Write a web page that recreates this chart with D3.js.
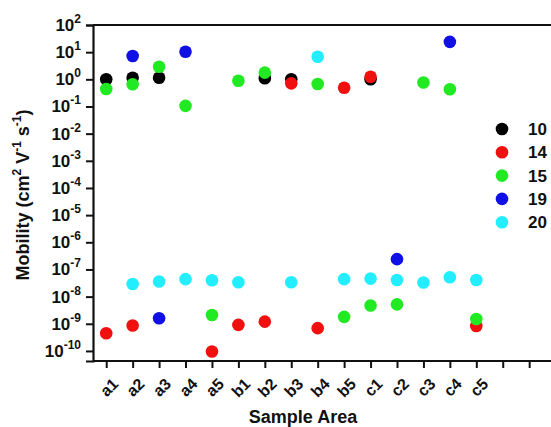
<!DOCTYPE html>
<html>
<head>
<meta charset="utf-8">
<script src="https://cdn.jsdelivr.net/npm/d3@7"></script>
<style>
  body { margin: 0; background: #fff; }
  text { font-family: "Liberation Sans", Arial, sans-serif; font-weight: bold; fill: #111; }
</style>
</head>
<body>
<div id="chart"></div>
<script>
// categories on the x axis (two extra empty slots at the end)
var categories = ["a1","a2","a3","a4","a5","b1","b2","b3","b4","b5","c1","c2","c3","c4","c5","",""];
var seriesNames = ["10", "14", "15", "19", "20"];
var seriesColors = ["#000000", "#f01010", "#22ea22", "#1010e6", "#22eeff"];
var yTickExps = [2, 1, 0, -1, -2, -3, -4, -5, -6, -7, -8, -9, -10];

// [category, mobility]
var s10 = [["a1",1.0],["a2",1.15],["a3",1.15],["b2",1.1],["b3",1.0],["c1",1.0]];
var s14 = [["a1",4.5e-10],["a2",8.6e-10],["a5",9.5e-11],["b1",9.1e-10],["b2",1.2e-9],
           ["b3",0.71],["b4",6.9e-10],["b5",0.49],["c1",1.25],["c5",8.3e-10]];
var s15 = [["a1",0.44],["a2",0.66],["a3",2.9],["a4",0.105],["a5",2.1e-9],["b1",0.89],["b2",1.76],
           ["b4",0.67],["b5",1.8e-9],["c1",4.7e-9],["c2",5.2e-9],["c3",0.76],["c4",0.43],["c5",1.5e-9]];
var s19 = [["a2",7.2],["a3",1.6e-9],["a4",10.4],["c2",2.4e-7],["c4",24]];
var s20 = [["a2",2.9e-8],["a3",3.6e-8],["a4",4.4e-8],["a5",4.0e-8],["b1",3.4e-8],["b3",3.4e-8],
           ["b4",6.8],["b5",4.4e-8],["c1",4.6e-8],["c2",4.1e-8],["c3",3.3e-8],["c4",5.2e-8],["c5",4.1e-8]];
var allSeries = [s10, s14, s15, s19, s20];

var width = 551, height = 427;
var plotLeft = 93, plotTop = 25, plotRight = 549, plotBottom = 361;

var svg = d3.select("#chart").append("svg")
    .attr("width", width)
    .attr("height", height);

var x = d3.scaleLinear().domain([0.5, 17.75]).range([plotLeft, plotRight]);
var y = d3.scaleLog().domain([Math.pow(10, -10.37), 100]).range([plotBottom, plotTop]);
function xPos(cat) { return x(categories.indexOf(cat) + 1); }

// frame top line
svg.append("line")
    .attr("x1", plotLeft).attr("x2", width)
    .attr("y1", plotTop).attr("y2", plotTop)
    .attr("stroke", "#111").attr("stroke-width", 2);

// y axis
var yAxis = svg.append("g")
    .attr("transform", "translate(" + plotLeft + ",0)")
    .call(d3.axisLeft(y).tickValues(yTickExps.map(function(e){ return Math.pow(10, e); }))
        .tickSize(7).tickFormat(""));
yAxis.select(".domain").attr("stroke", "#111").attr("stroke-width", 2.2);
yAxis.selectAll(".tick line").attr("stroke", "#111").attr("stroke-width", 2);

var yLab = svg.append("g").selectAll("text")
    .data(yTickExps)
    .enter().append("text")
    .attr("x", 81)
    .attr("y", function(d){ return y(Math.pow(10, d)) + 6; })
    .attr("text-anchor", "end")
    .style("font-size", "17px");
yLab.append("tspan").text("10");
yLab.append("tspan").attr("dy", -8).style("font-size", "12px").text(function(d){ return d; });

// x axis
var xAxis = svg.append("g")
    .attr("transform", "translate(0," + plotBottom + ")")
    .call(d3.axisBottom(x).tickValues(d3.range(1, categories.length + 1))
        .tickSize(7).tickFormat(""));
xAxis.select(".domain").attr("stroke", "#111").attr("stroke-width", 2.2)
    .attr("d", "M" + plotLeft + ",0H" + width);
xAxis.selectAll(".tick line").attr("stroke", "#111").attr("stroke-width", 2);

svg.append("g").selectAll("text")
    .data(categories.filter(function(c){ return c !== ""; }))
    .enter().append("text")
    .attr("transform", function(d){ return "translate(" + (xPos(d) + 13) + "," + (plotBottom + 24) + ") rotate(-45)"; })
    .attr("text-anchor", "end")
    .style("font-size", "16px")
    .text(function(d){ return d; });

// axis titles
svg.append("text")
    .attr("x", 303).attr("y", 423)
    .attr("text-anchor", "middle")
    .style("font-size", "18px")
    .text("Sample Area");

var yt = svg.append("text")
    .attr("transform", "translate(29,195) rotate(-90)")
    .attr("text-anchor", "middle")
    .style("font-size", "18px");
yt.append("tspan").text("Mobility (cm");
yt.append("tspan").attr("dy", -8).style("font-size", "12px").text("2");
yt.append("tspan").attr("dy", 8).text(" V");
yt.append("tspan").attr("dy", -8).style("font-size", "12px").text("-1");
yt.append("tspan").attr("dy", 8).text(" s");
yt.append("tspan").attr("dy", -8).style("font-size", "12px").text("-1");
yt.append("tspan").attr("dy", 8).text(")");

// points
allSeries.forEach(function(s, i) {
    svg.append("g").selectAll("circle")
        .data(s)
        .enter().append("circle")
        .attr("cx", function(d){ return xPos(d[0]); })
        .attr("cy", function(d){ return y(d[1]); })
        .attr("r", 6.3)
        .style("fill", seriesColors[i]);
});

// legend
var legend = svg.append("g").selectAll("g")
    .data(seriesNames)
    .enter().append("g")
    .attr("transform", function(d, i){ return "translate(502," + (129 + i * 23.3) + ")"; });
legend.append("circle").attr("r", 6.3).style("fill", function(d, i){ return seriesColors[i]; });
legend.append("text").attr("x", 26).attr("y", 6).style("font-size", "17px").text(function(d){ return d; });
</script>
</body>
</html>
